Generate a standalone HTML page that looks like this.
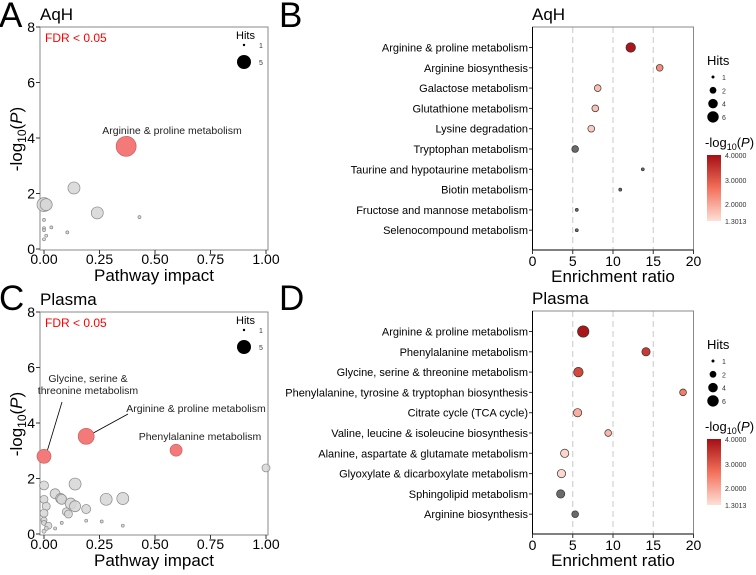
<!DOCTYPE html>
<html><head><meta charset="utf-8"><style>
body{margin:0;background:#fff;width:756px;height:570px;overflow:hidden;font-family:"Liberation Sans",sans-serif}
svg text{font-family:"Liberation Sans",sans-serif}
</style></head><body>
<svg id="fig" width="756" height="570" viewBox="0 0 756 570" xmlns="http://www.w3.org/2000/svg">
<defs><linearGradient id="grad" x1="0" y1="1" x2="0" y2="0">
<stop offset="0" stop-color="#fde0d6"/><stop offset="0.5" stop-color="#f3705a"/><stop offset="1" stop-color="#a50f15"/></linearGradient></defs>
<g id="root"></g>
</svg>
<script>
// Panel A data (AqH pathway impact)
const aImpact=[0.37,0.135,0.24,0.0,0.01,0.43,0.0,0.0,0.0,0.033,0.105,0.01,0.0];
const aLogP=[3.7,2.2,1.3,1.6,1.6,1.15,1.05,0.75,0.68,0.78,0.6,0.48,0.35];
const aR=[10,6,6,7,6,1.5,1.5,1.5,1.5,1.5,1.5,1.5,1.5];
const aSig=[1,0,0,0,0,0,0,0,0,0,0,0,0];
// Panel C data (Plasma pathway impact)
const cImpact=[0.0,0.19,0.595,1.0,0.0,0.14,0.05,0.075,0.08,0.12,0.14,0.19,0.28,0.355,0.0,0.01,0.1,0.11,0.0,0.0,0.0,0.02,0.01,0.0,0.05,0.08,0.19,0.26,0.355];
const cLogP=[2.8,3.52,3.02,2.38,1.75,1.8,1.45,1.28,1.25,1.1,1.0,0.9,1.25,1.28,1.25,1.0,0.8,0.72,0.75,0.5,0.4,0.3,0.2,0.1,0.2,0.4,0.48,0.45,0.3];
const cR=[7,8,6,4,4.5,6,5,5,5,5.5,5.5,4.5,6,6,4,4,4,4,4,3,2.5,3.5,2,2,1.5,1.5,1.5,1.5,1.5];
const cSig=[1,1,1,0,0,0,0,0,0,0,0,0,0,0,0,0,0,0,0,0,0,0,0,0,0,0,0,0,0];
// Panel B data
const bNames=["Arginine & proline metabolism","Arginine biosynthesis","Galactose metabolism","Glutathione metabolism","Lysine degradation","Tryptophan metabolism","Taurine and hypotaurine metabolism","Biotin metabolism","Fructose and mannose metabolism","Selenocompound metabolism"];
const bRatio=[12.2,15.8,8.1,7.8,7.3,5.3,13.7,10.9,5.5,5.5];
const bHits=[4,2,2,2,2,2,1,1,1,1];
const bLogP=[3.9,2.3,1.7,1.65,1.55,0,0,0,0,0];
// Panel D data
const dNames=["Arginine & proline metabolism","Phenylalanine metabolism","Glycine, serine & threonine metabolism","Phenylalanine, tyrosine & tryptophan biosynthesis","Citrate cycle (TCA cycle)","Valine, leucine & isoleucine biosynthesis","Alanine, aspartate & glutamate metabolism","Glyoxylate & dicarboxylate metabolism","Sphingolipid metabolism","Arginine biosynthesis"];
const dRatio=[6.3,14.1,5.7,18.7,5.6,9.4,4.0,3.6,3.5,5.3];
const dHits=[6,3,4,2,3,2,3,3,3,2];
const dLogP=[3.9,3.4,3.2,2.5,1.9,1.8,1.45,1.4,0,0];
const impTicks=[0,0.25,0.5,0.75,1];
const impLabels=["0.00","0.25","0.50","0.75","1.00"];
const pTicks=[0,2,4,6,8];
const erTicks=[0,5,10,15,20];

const NS="http://www.w3.org/2000/svg";
const root=document.getElementById('root');
function el(tag,at,txt,parent){const e=document.createElementNS(NS,tag);for(const k in at)e.setAttribute(k,at[k]);if(txt!==undefined)e.textContent=txt;(parent||root).appendChild(e);return e;}
function hr(t){return 1.5+Math.sqrt((t-1)/5)*4.2;}
function col(v){const t=Math.max(0,Math.min(1,(v-1.3013)/(4-1.3013)));
 const a=[253,224,214],m=[243,112,90],b=[165,15,21];let c;
 if(t<0.5){const u=t/0.5;c=a.map((x,i)=>Math.round(x+(m[i]-x)*u));}else{const u=(t-0.5)/0.5;c=m.map((x,i)=>Math.round(x+(b[i]-x)*u));}
 return `rgb(${c[0]},${c[1]},${c[2]})`;}

function txt(x,y,s,size,anchor,fill,name){const t=el('text',{x:x,y:y,'font-size':size,'text-anchor':anchor||'start',fill:fill||'#000'},s);
 
 return t;}

function scatter(top,title,letter,imp,lp,rr,sig,labels,letterY){
 const x0=44,x1=266,yb=top+222,yt=top;
 const sx=v=>x0+(x1-x0)*v, sy=v=>yb-(yb-yt)*v/8;
 const f=el('rect',{x:40,y:top,width:228,height:223,fill:'none',stroke:'#888','stroke-width':1});
 
 
 txt(-1,letterY,letter,35,'start','#000','panel-letter');
 txt(40,top-7,title,17,'start','#000','panel-title');
 txt(45,top+15,'FDR < 0.05',12,'start','#f00','fdr-note');
 pTicks.forEach(v=>{const y=sy(v);el('line',{x1:36,x2:40,y1:y,y2:y,stroke:'#333'});txt(35,y+5,String(v),14,'end','#000','y-tick-label');});
 impTicks.forEach((v,i)=>{const x=sx(v);el('line',{x1:x,x2:x,y1:top+223,y2:top+227,stroke:'#333'});txt(x,top+237,impLabels[i],14,'middle','#000','x-tick-label');});
 txt(154,top+254,'Pathway impact',17,'middle','#000','x-axis-title');
 const yt2=el('text',{transform:`translate(22,${top+112}) rotate(-90)`,'font-size':17,'text-anchor':'middle'});
 
 
 yt2.innerHTML='-log<tspan font-size="12" dy="4">10</tspan><tspan dy="-4">(</tspan><tspan font-style="italic">P</tspan>)';
 labels.forEach(l=>{ if(l.line) el('line',{x1:l.line[0],y1:l.line[1],x2:l.line[2],y2:l.line[3],stroke:'#000','stroke-width':0.8});
   l.t.forEach((s,i)=>txt(l.x,l.y+i*12,s,10.5,'middle','#222','point-label'));});
 imp.forEach((v,i)=>{const c=el('circle',{cx:sx(v),cy:sy(lp[i]),r:rr[i],fill:sig[i]?'#f47a7a':'#d6d6d6','fill-opacity':sig[i]?1:0.85,stroke:sig[i]?'#c86060':'#888','stroke-width':0.7});
  
  });
 txt(236,top+12,'Hits',11,'start','#000','legend-title');
 el('circle',{cx:244,cy:top+18,r:1.2,fill:'#000'});txt(259,top+21,'1',7,'start','#333','legend-label');
 el('circle',{cx:244,cy:top+35,r:7,fill:'#000'});txt(259,top+38,'5',7,'start','#333','legend-label');
}
scatter(27,'AqH','A',aImpact,aLogP,aR,aSig,[{x:172,y:134,t:['Arginine & proline metabolism']}],27);
scatter(312,'Plasma','C',cImpact,cLogP,cR,cSig,[
 {x:88,y:382,t:['Glycine, serine &','threonine metabolism'],line:[46,455,62,402]},
 {x:196,y:412,t:['Arginine & proline metabolism'],line:[86,437,128,414]},
 {x:200,y:440,t:['Phenylalanine metabolism']}],310);

function dot(top,title,letter,names,ratio,hits,lp,letterY){
 const x0=532.5,x1=693.5,yb=top+223;
 const sx=v=>x0+(x1-x0)*v/20;
 const sy=i=>top+20.5+i*20.3;
 txt(279,letterY,letter,35,'start','#000','panel-letter');
 txt(532,top-7,title,17,'start','#000','panel-title');
 [5,10,15].forEach(v=>el('line',{x1:sx(v),x2:sx(v),y1:top,y2:yb,stroke:'#c8c8c8','stroke-dasharray':'6,4'}));
 const f=el('rect',{x:532.5,y:top,width:161,height:223,fill:'none',stroke:'#888'});
 
 
 el('line',{x1:532.5,x2:532.5,y1:top,y2:yb,stroke:'#000'});el('line',{x1:532.5,x2:693.5,y1:yb,y2:yb,stroke:'#000'});
 names.forEach((n,i)=>{el('line',{x1:529,x2:532,y1:sy(i),y2:sy(i),stroke:'#333'});txt(528,sy(i)+4,n,11,'end','#000','category-label');});
 erTicks.forEach(v=>{el('line',{x1:sx(v),x2:sx(v),y1:yb,y2:yb+4,stroke:'#333'});txt(sx(v),yb+16,String(v),14,'middle','#000','x-tick-label');});
 txt(613,yb+32,'Enrichment ratio',17,'middle','#000','x-axis-title');
 ratio.forEach((v,i)=>{const c=el('circle',{cx:sx(v),cy:sy(i),r:hr(hits[i]),fill:lp[i]?col(lp[i]):'#6a6a6a',stroke:'#333','stroke-width':0.7});
  
  });
 const ly=top+38;
 txt(707,ly,'Hits',13,'start','#000','legend-title');
 [1,2,4,6].forEach((h,k)=>{el('circle',{cx:713,cy:ly+12+k*13.3,r:hr(h),fill:'#000'});txt(722,ly+15+k*13.3,String(h),7,'start','#333','legend-label');});
 const lt=el('text',{x:705,y:ly+82,'font-size':13});
 
 
 lt.innerHTML='-log<tspan font-size="9" dy="3">10</tspan><tspan dy="-3">(</tspan><tspan font-style="italic">P</tspan>)';
 const cb=el('rect',{x:707,y:ly+90,width:14,height:66,fill:'url(#grad)'});
 
 
 [['4.0000',0],['3.0000',25],['2.0000',49],['1.3013',66]].forEach(a=>txt(725,ly+93+a[1],a[0],7,'start','#333','colorbar-label'));
}
dot(27,'AqH','B',bNames,bRatio,bHits,bLogP,27);
dot(311,'Plasma','D',dNames,dRatio,dHits,dLogP,310);
</script>
</body></html>
